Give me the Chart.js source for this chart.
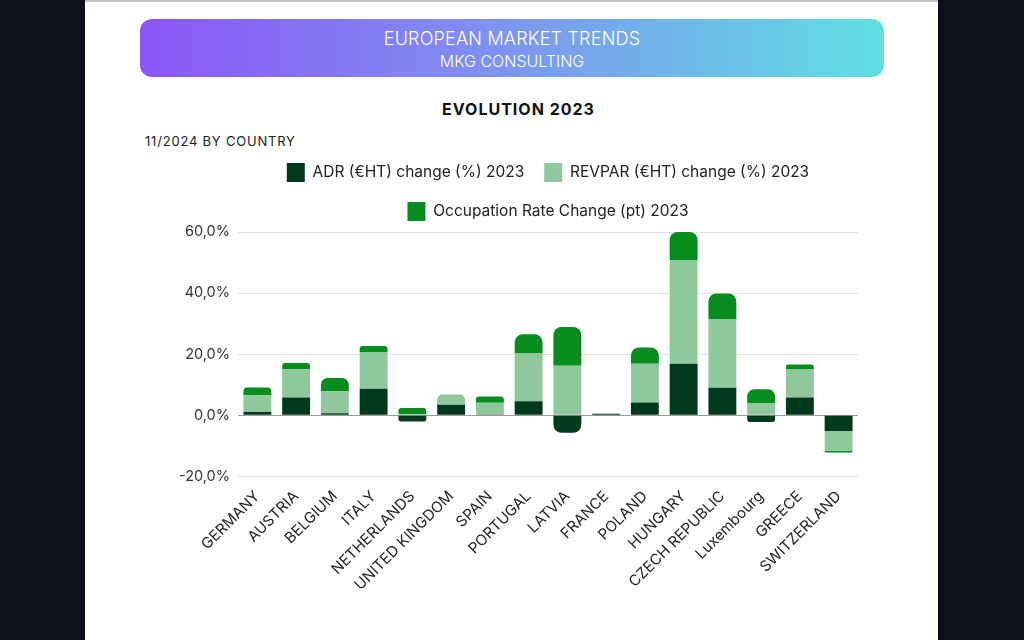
<!DOCTYPE html>
<html>
<head>
<meta charset="utf-8">
<script src="https://cdn.jsdelivr.net/npm/chart.js@4"></script>
<style>
  html, body { margin: 0; padding: 0; }
  body {
    width: 1024px; height: 640px; overflow: hidden;
    background: #0d111a;
    font-family: Inter, "Noto Sans", sans-serif;
  }
  .card {
    position: absolute; left: 85px; top: 0; width: 853px; height: 640px;
    background: #fff; border-top: 2px solid #c4c4c4; box-sizing: border-box;
  }
  .header {
    position: absolute; left: 55px; top: 17px; width: 744px; height: 58px;
    border-radius: 12px;
    background: linear-gradient(90deg, #8b55f7 0%, #7f8ff0 45%, #5fe0e4 100%);
    color: #fff; text-align: center;
  }
  .header .t1 { font-size: 18px; font-weight: 300; margin-top: 9px; line-height: 22px; letter-spacing: 0.2px; }
  .header .t2 { font-size: 16px; font-weight: 300; line-height: 20px; margin-top: 1px; }
  .title {
    position: absolute; left: 7px; width: 100%; top: 97px; text-align: center;
    font-size: 16px; font-weight: 700; letter-spacing: 1px; color: #111;
  }
  .sub {
    position: absolute; left: 60px; top: 131px;
    font-size: 13px; letter-spacing: 0.8px; color: #222;
  }
  .chartbox { position: absolute; left: 86px; top: 141px; width: 749px; height: 454px; }
</style>
</head>
<body>
<div class="card">
  <div class="header">
    <div class="t1">EUROPEAN MARKET TRENDS</div>
    <div class="t2">MKG CONSULTING</div>
  </div>
  <div class="title">EVOLUTION 2023</div>
  <div class="sub">11/2024 BY COUNTRY</div>
  <div class="chartbox"><canvas id="trendChart"></canvas></div>
</div>
<script>
const countries = ["GERMANY", "AUSTRIA", "BELGIUM", "ITALY", "NETHERLANDS", "UNITED KINGDOM", "SPAIN",
  "PORTUGAL", "LATVIA", "FRANCE", "POLAND", "HUNGARY", "CZECH REPUBLIC", "Luxembourg", "GREECE", "SWITZERLAND"];
const adrChange = [1.1, 5.8, 0.7, 8.7, -2.0, 3.5, 0.3, 4.6, -5.7, 0.5, 4.2, 16.9, 9.0, -2.2, 5.8, -5.1];
const revparChange = [5.5, 9.3, 7.2, 12.0, 0.4, 3.3, 3.8, 15.6, 16.2, 0, 12.7, 33.9, 22.5, 4.0, 9.2, -6.5];
const occupationChange = [2.5, 2.0, 4.3, 2.0, 2.0, 0, 2.1, 6.3, 12.7, 0, 5.3, 9.2, 8.4, 4.5, 1.6, -0.6];

// a little extra room under the legend
const legendGap = {
  id: "legendGap",
  beforeInit(chart) {
    const fit = chart.legend.fit;
    chart.legend.fit = function () {
      fit.call(this);
      this.height += 1;
    };
  }
};

document.addEventListener("DOMContentLoaded", function () {
  const ctx = document.getElementById("trendChart").getContext("2d");
  Chart.defaults.font.family = "Inter, 'Noto Sans', sans-serif";

  new Chart(ctx, {
    type: "bar",
    data: {
      labels: countries,
      datasets: [
        { label: "ADR (€HT) change (%) 2023", data: adrChange, backgroundColor: "#00391c", borderRadius: 8 },
        { label: "REVPAR (€HT) change (%) 2023", data: revparChange, backgroundColor: "#8fc89c", borderRadius: 8 },
        { label: "Occupation Rate Change (pt) 2023", data: occupationChange, backgroundColor: "#078c1e", borderRadius: 8 }
      ]
    },
    options: {
      responsive: true,
      maintainAspectRatio: false,
      animation: false,
      layout: { padding: { right: 62 } },
      plugins: {
        legend: {
          fullSize: false,
          labels: { boxWidth: 18, boxHeight: 19, padding: 20, color: "#222", font: { size: 15.5 } }
        },
        tooltip: { enabled: false }
      },
      scales: {
        x: {
          stacked: true,
          grid: { display: false },
          border: { display: false },
          ticks: { color: "#222", font: { size: 15 }, maxRotation: 45, minRotation: 45, autoSkip: false }
        },
        y: {
          stacked: true,
          min: -20, max: 60,
          border: { display: false },
          grid: {
            color: (c) => c.tick && c.tick.value === 0 ? "#999" : "#e2e2e2",
            drawTicks: false
          },
          ticks: {
            stepSize: 20, padding: 8, color: "#333", font: { size: 14.5 },
            callback: (v) => v.toFixed(1).replace(".", ",") + "%"
          }
        }
      }
    },
    plugins: [legendGap]
  });
});
</script>
</body>
</html>
